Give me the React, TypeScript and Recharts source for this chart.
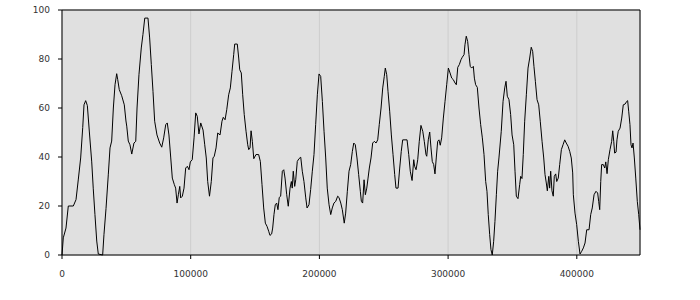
import React from 'react';
import { LineChart, Line, XAxis, YAxis, CartesianGrid, ReferenceLine } from 'recharts';

// x positions of the series samples
const xs = [
  0, 1000, 3100, 4900, 8800, 10900, 12700, 14500, 16100, 17100, 18400, 19700, 21200, 23100, 24300, 25600,
  27000, 28200, 31600, 32600, 34200, 36000, 37300, 38600, 39900, 41200, 42500, 43300, 44500, 46400, 48400,
  49700, 50300, 51500, 52800, 54200, 55900, 57300, 58300, 59800, 61600, 62900, 64300, 66800, 68100, 69400,
  70700, 72000, 73800, 75900, 77500, 79000, 80600, 81800, 83100, 84500, 85700, 87300, 88300, 89400, 90400,
  91500, 92200, 93500, 94800, 96100, 97400, 98700, 99700, 101200, 102600, 103900, 105100, 106400, 107800,
  109600, 110900, 112100, 113200, 114600, 116000, 117300, 118300, 119700, 121000, 122800, 124300, 125300,
  126700, 128000, 129500, 130800, 132100, 133400, 134200, 136200, 137300, 138100, 139300, 140400, 141600,
  143000, 144300, 145100, 146100, 146900, 147900, 149000, 150700, 152800, 154100, 155400, 156700, 158000,
  159300, 160600, 161600, 162900, 163700, 164700, 165700, 166800, 167800, 168800, 169900, 171200, 172300,
  173300, 174600, 175800, 177200, 178200, 178900, 179700, 180800, 181600, 182800, 184100, 185500, 186700,
  188000, 189400, 190400, 191900, 193200, 194500, 195800, 197100, 198400, 199700, 201000, 202300, 203600,
  204900, 206100, 207500, 208800, 210000, 211300, 212700, 214200, 215200, 216600, 217800, 219300, 220400,
  221700, 223000, 224300, 225600, 226700, 227900, 229200, 230500, 231800, 232600, 233600, 234700, 235700,
  236800, 237800, 238800, 240100, 241400, 242700, 244000, 245300, 246500, 247900, 249200, 250400, 251200,
  252300, 253300, 254600, 255900, 257200, 258500, 259500, 261100, 262400, 263600, 264700, 268100, 269400,
  270600, 272000, 273300, 274000, 275100, 276400, 277600, 278900, 280300, 281500, 282800, 283400, 284600,
  285700, 286700, 287700, 288800, 289800, 290800, 291900, 292900, 293900, 295000, 296300, 297600, 298900,
  300200, 301500, 302800, 304000, 305400, 306400, 307500, 308700, 310000, 311000, 312400, 313100, 314100,
  315200, 316200, 317200, 318300, 319600, 320400, 321400, 322700, 324000, 325300, 326600, 327900, 329200,
  330200, 331200, 332300, 333300, 334300, 335400, 336400, 337500, 338500, 339500, 341300, 342700, 344000,
  345000, 346000, 347300, 348600, 349700, 351000, 352000, 353000, 354300, 355600, 356400, 357400, 358400,
  359500, 360800, 362100, 363400, 364600, 365700, 366700, 367800, 369100, 370400, 371600, 373000, 374300,
  375300, 376300, 377100, 378200, 378900, 379700, 380700, 381700, 382500, 383600, 384400, 385600, 386700,
  388000, 389300, 390600, 391800, 393200, 394500, 395700, 396800, 397300, 398600, 399900, 401200, 402500,
  403800, 405100, 406400, 407700, 409500, 410800, 412000, 413400, 414900, 416200, 417000, 417800, 418600,
  419300, 420600, 421700, 422500, 423500, 424500, 425800, 427100, 427900, 428700, 429400, 430500, 431200,
  432200, 433600, 434900, 436100, 437500, 438800, 439500, 440300, 441300, 442100, 442900, 443700, 444700,
  445800, 447000, 448100, 449100,
];

// series values (0-100)
const ys = [
  0, 7, 11, 20, 20, 22.6, 31, 39.6, 52, 61.3, 63, 61, 50.6, 38, 27, 16.5,
  5.7, 0.4, 0, 8.3, 19, 33, 43.7, 46.5, 60, 69.5, 74, 71.6, 67.5, 65, 61.3,
  54.7, 52.6, 46.5, 45, 41.2, 45.7, 46.4, 60, 73.6, 84.5, 90, 96.7, 96.7, 88.6, 77.7,
  66.8, 54.6, 49, 45.7, 44, 47.8, 53.2, 53.9, 49, 39.6, 31.4, 28.7, 27.3, 21.2, 24.6,
  28, 23.3, 24, 27.3, 35.5, 36.2, 34.8, 38, 38.9, 47.8, 58, 56.6, 49.4, 53.9,
  51, 45, 39.6, 30, 24, 30, 39.6, 40.3, 43.7, 49.8, 49, 54.6, 56.2,
  55.2, 59.3, 65.4, 68.2, 75, 81.8, 86.1, 86.1, 80.4, 75.6, 74.3, 65.4, 57.3,
  50.5, 45, 43, 43.7, 50.7, 46.4, 39.3, 41, 41, 38.2, 28.7, 19.2, 13,
  11.7, 9.7, 8, 8.6, 11, 16.5, 20.5, 21.2, 18.5, 23.5, 24, 34.2, 34.8,
  31.4, 24.6, 19.9, 27.3, 30, 27.3, 34.2, 28, 30.7, 38.2, 39.3, 39.9, 34.2,
  30, 23.3, 19.2, 20.5, 26.7, 34.2, 41, 53.2, 65.4, 73.9, 72.9, 62.7, 50.5,
  39.6, 27.3, 20.5, 16.5, 19.2, 21.2, 21.9, 24, 23.5, 21.2, 18.5, 13, 17.1,
  26, 34.2, 36.9, 42.3, 45.7, 45, 39.6, 32.8, 26, 21.9, 21.2, 30.7, 24.6,
  27.3, 31.4, 35.5, 39.6, 45.7, 46.4, 45.7, 47, 53.2, 60, 68.2, 72.9, 76.3,
  73.6, 66.8, 58.7, 49, 41, 32.8, 27.3, 27.3, 35.5, 42.3, 47, 47, 41,
  34.2, 30.4, 38.9, 36.2, 34.8, 38.9, 46.4, 52.9, 50.5, 46.4, 41, 40.3, 47,
  50.2, 43.7, 38.2, 36.9, 33.1, 39.6, 46.4, 47, 44.8, 47.8, 55.9, 62.7, 69.5,
  76.3, 74.3, 72.2, 71.6, 70.2, 69.5, 76.6, 77.7, 79.7, 80.7, 81.8, 85.8, 89.3,
  87.2, 81.8, 77, 76.3, 77, 72.2, 69.5, 68.4, 60, 53.2, 47.8, 41, 30,
  26, 16.5, 8.3, 2.2, 0, 5.6, 13.7, 24.6, 34.2, 39.6, 50.5, 62.7, 68.2,
  70.9, 64.8, 63.4, 57.3, 49, 45, 34.2, 24, 23, 28.7, 32.1, 31.2, 41,
  54.6, 65.4, 76.3, 80.4, 84.8, 83.1, 77, 70.9, 63.4, 61.3, 54.6, 46.4, 39.6,
  32.8, 29.4, 26.2, 32.1, 27.3, 34.2, 26.2, 24, 32.1, 33.1, 30, 31.4, 36.9,
  43, 45, 47, 45.7, 44.4, 42.3, 39.6, 33.5, 24.6, 17.1, 12.4, 5.6, 0.4,
  1.5, 2.9, 4.9, 10.3, 10.3, 16.5, 19.2, 24.6, 26, 25.3, 21.9, 18.5, 30,
  36.9, 36.9, 35.5, 38, 33.2, 38.9, 43, 46.4, 50.7, 46.4, 41.6, 42, 47,
  50.5, 51.8, 55.9, 61.3, 61.6, 62.7, 63, 58.7, 53.2, 45, 43.7, 45.7, 39.6,
  31.4, 21.9, 16.5, 10.3,
];

const xTicks = [0, 100000, 200000, 300000, 400000];
const yTicks = [0, 20, 40, 60, 80, 100];

const data = xs.map((x, i) => ({ x, v: ys[i] }));

const tickStyle = { fontSize: 9, fill: '#333', fontFamily: 'DejaVu Sans' };

const App: React.FC = () => {
  return (
    <div style={{ position: 'absolute', left: 0, top: 0, background: '#fff' }}>
      <LineChart width={700} height={300} data={data} margin={{ top: 10, right: 0, bottom: 0, left: 0 }}>
        <CartesianGrid fill="#e0e0e0" stroke="#cdcdcd" strokeWidth={1} />
        <XAxis
          dataKey="x"
          type="number"
          domain={[0, 'dataMax']}
          ticks={xTicks}
          height={45}
          axisLine={{ stroke: '#000' }}
          tickLine={{ stroke: '#000' }}
          tickSize={4}
          tickMargin={12}
          tick={tickStyle}
        />
        <YAxis
          yAxisId="left"
          domain={[0, 100]}
          ticks={yTicks}
          width={62}
          axisLine={{ stroke: '#000' }}
          tickLine={{ stroke: '#000' }}
          tickSize={4}
          tickMargin={8}
          tick={tickStyle}
        />
        <YAxis
          yAxisId="right"
          orientation="right"
          domain={[0, 100]}
          ticks={yTicks}
          width={60}
          axisLine={{ stroke: '#000' }}
          tickLine={{ stroke: '#000' }}
          tickSize={4}
          tickMargin={16}
          tick={{ ...tickStyle, textAnchor: 'start' }}
        />
        <ReferenceLine yAxisId="left" y={100} stroke="#000" />
        <Line
          yAxisId="left"
          type="linear"
          dataKey="v"
          stroke="#000"
          strokeWidth={1}
          dot={false}
          isAnimationActive={false}
        />
      </LineChart>
    </div>
  );
};

export default App;
